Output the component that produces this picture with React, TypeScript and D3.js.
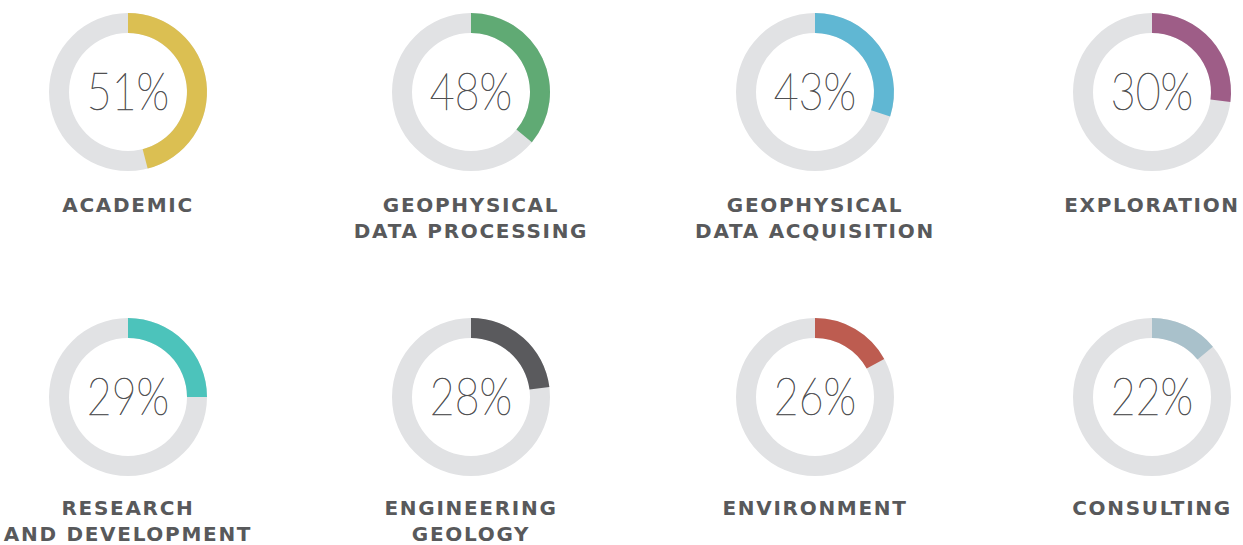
import React from 'react'
import { arc, scaleLinear } from 'd3'

// shown percentages and the arc share actually drawn in the picture
const labels = ['51%', '48%', '43%', '30%', '29%', '28%', '26%', '22%']
const arcShares = [46, 36, 30, 27, 25, 23, 17, 14]
const titles = [
  ['ACADEMIC'],
  ['GEOPHYSICAL', 'DATA PROCESSING'],
  ['GEOPHYSICAL', 'DATA ACQUISITION'],
  ['EXPLORATION'],
  ['RESEARCH', 'AND DEVELOPMENT'],
  ['ENGINEERING', 'GEOLOGY'],
  ['ENVIRONMENT'],
  ['CONSULTING'],
]
const colors = ['#dbbf52', '#60aa74', '#60b7d3', '#9e5d87', '#4cc3bb', '#5a5a5d', '#bd5c50', '#a9c1cb']

const W = 1243
const H = 545
const colCenters = [128, 471, 815, 1152]
const rowCenters = [92, 397]
const titleOffset = [120, 118]
const outerR = 79
const innerR = 59

const angle = scaleLinear().domain([0, 100]).range([0, 2 * Math.PI])
const ring = arc<any>().innerRadius(innerR).outerRadius(outerR)

export default function App() {
  return (
    <svg
      width={W}
      height={H}
      style={{ position: 'absolute', left: 0, top: 0, background: '#fff' }}
    >
      {labels.map((label, i) => {
        const cx = colCenters[i % 4]
        const row = Math.floor(i / 4)
        const cy = rowCenters[row]
        return (
          <g key={i} transform={`translate(${cx},${cy})`}>
            <path d={ring({ startAngle: 0, endAngle: 2 * Math.PI }) ?? ''} fill='#e1e2e4' />
            <path d={ring({ startAngle: 0, endAngle: angle(arcShares[i]) }) ?? ''} fill={colors[i]} />
            <text
              transform='translate(0,18) scale(0.84,1)'
              textAnchor='middle'
              fontFamily='Lato'
              fontWeight={100}
              fontSize={51}
              fill='#505052'
              stroke='#505052'
              strokeWidth={0.6}
            >
              {label}
            </text>
            {titles[i].map((t, j) => (
              <text
                key={j}
                y={titleOffset[row] + j * 26}
                textAnchor='middle'
                fontFamily='DejaVu Sans'
                fontWeight='bold'
                fontSize={20}
                letterSpacing={1.7}
                fill='#58595b'
              >
                {t}
              </text>
            ))}
          </g>
        )
      })}
    </svg>
  )
}
